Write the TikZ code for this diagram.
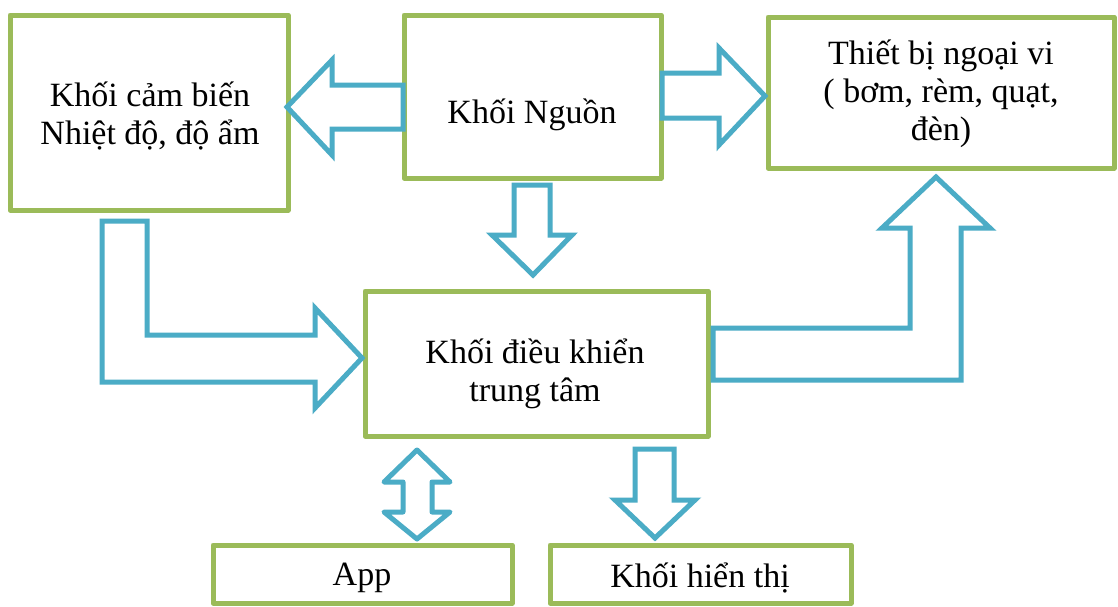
\documentclass[tikz,border=0pt]{standalone}
\usepackage{fontspec}
\setmainfont{Liberation Serif}
\definecolor{boxgreen}{HTML}{9BBB59}
\definecolor{arrowblue}{HTML}{4BACC6}
\begin{document}
\begin{tikzpicture}[x=1pt,y=-1pt,
  blockbox/.style={draw=boxgreen,line width=5pt,line join=round,fill=white},
  blockarrow/.style={draw=arrowblue,line width=5pt,fill=white,line join=miter},
  lbl/.style={font=\fontsize{34}{38}\selectfont,align=center,inner sep=0pt}]
\useasboundingbox (0,0) rectangle (1118,606);
\clip (0,0) rectangle (1118,606);
\fill[white] (0,0) rectangle (1118,606);
% boxes
\draw[blockbox] (10,15) rectangle (288,210);
\coordinate (sensor) at (150,112);
\draw[blockbox] (404,15) rectangle (661,178);
\coordinate (power) at (532,96);
\draw[blockbox] (768,17) rectangle (1114,168);
\coordinate (periph) at (941,92);
\draw[blockbox] (365,291) rectangle (708,436);
\coordinate (ctrl) at (536,363);
\draw[blockbox] (213,545) rectangle (512,603);
\draw[blockbox] (550,545) rectangle (851,603);
% labels
\node[lbl] (tsensor) at (150,116) {Khối cảm biến\\Nhiệt độ, độ ẩm};
\node[lbl] (tpower) at (532,115) {Khối Nguồn};
\node[lbl] (tperiph) at (941,94) {Thiết bị ngoại vi\\( bơm, rèm, quạt,\\đèn)};
\node[lbl] (tctrl) at (535,374) {Khối điều khiển\\trung tâm};
\node[lbl] (tapp) at (362,578) {App};
\node[lbl] (tdisp) at (700,578) {Khối hiển thị};
% block arrows
\draw[blockarrow] (403,85) -- (332,85) -- (332,60) -- (287,107) -- (332,155) -- (332,129) -- (403,129) -- cycle;
\draw[blockarrow] (662,73) -- (719,73) -- (719,48) -- (765,96) -- (719,145) -- (719,118) -- (662,118) -- cycle;
\draw[blockarrow] (514,185) -- (550,185) -- (550,235) -- (572,235) -- (533,275) -- (492,235) -- (514,235) -- cycle;
\draw[blockarrow] (102,221) -- (147,221) -- (147,335) -- (315,335) -- (315,308) -- (362,358) -- (315,408) -- (315,382) -- (102,382) -- cycle;
\draw[blockarrow] (713,328) -- (910,328) -- (910,228) -- (882,228) -- (936,177) -- (990,228) -- (961,228) -- (961,380) -- (713,380) -- cycle;
\draw[blockarrow,line join=round] (417,450) -- (450,482) -- (432,482) -- (432,512) -- (450,512) -- (417,539) -- (384,512) -- (403,512) -- (403,482) -- (384,482) -- cycle;
\draw[blockarrow] (635,449) -- (674,449) -- (674,500) -- (695,500) -- (655,538) -- (615,500) -- (635,500) -- cycle;
\end{tikzpicture}
\end{document}
